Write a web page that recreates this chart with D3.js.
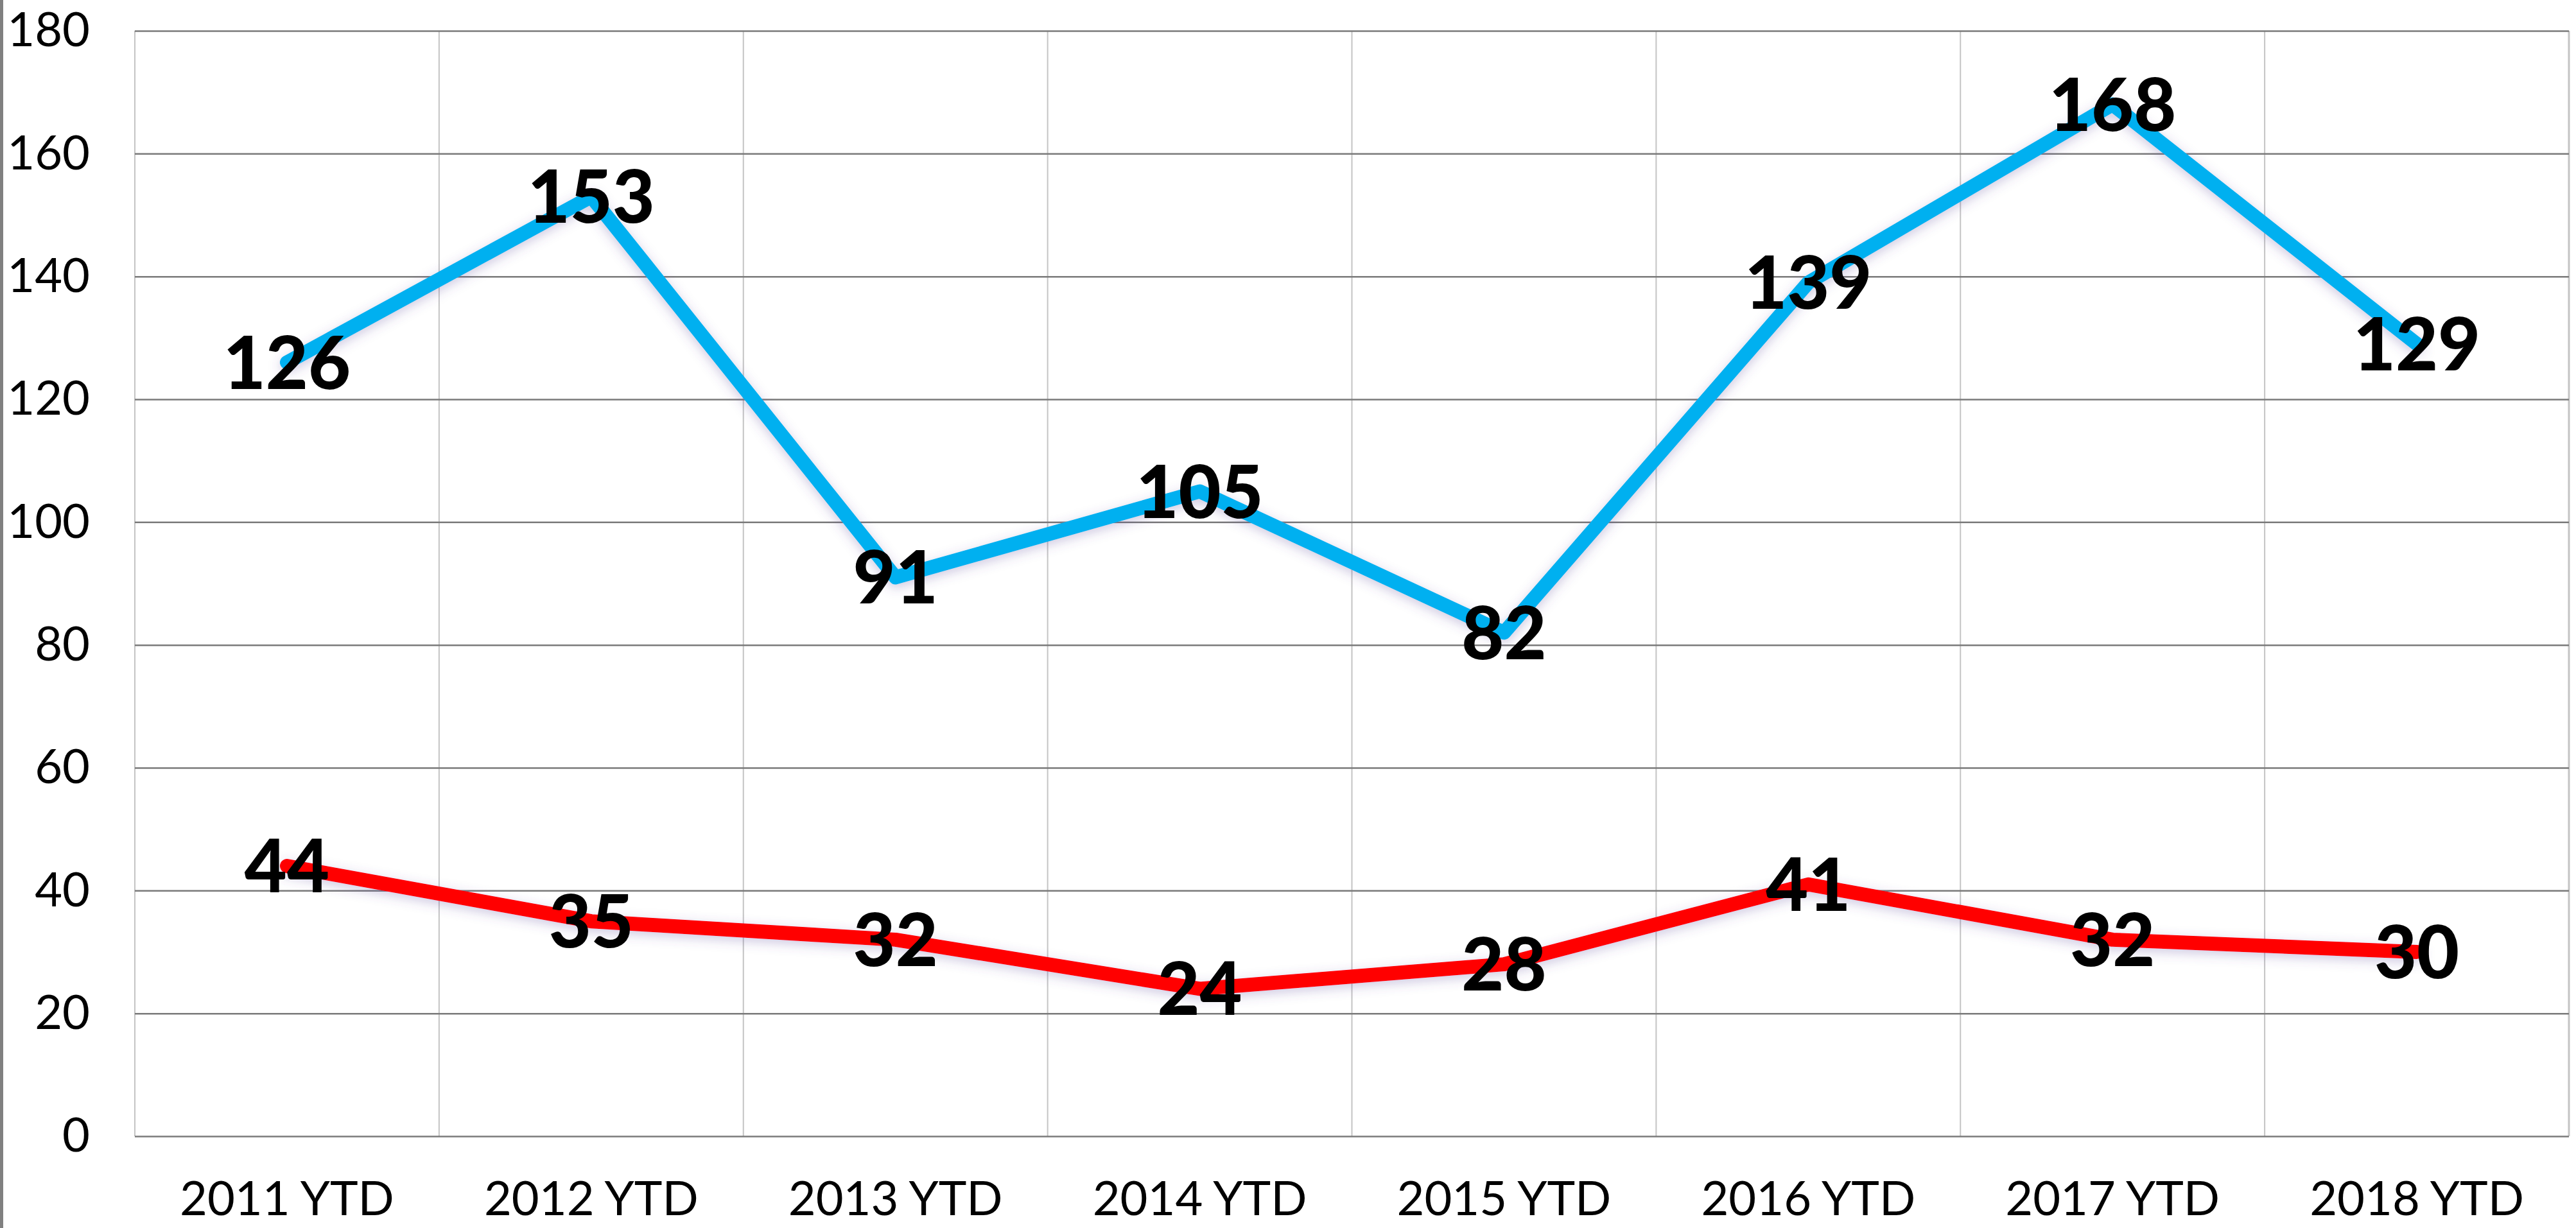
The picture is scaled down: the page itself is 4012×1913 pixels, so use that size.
<!DOCTYPE html>
<html>
<head>
<meta charset="utf-8">
<script src="https://cdn.jsdelivr.net/npm/d3@7"></script>
<style>
  body { margin: 0; background: #fff; }
  svg { display: block; }
</style>
</head>
<body>
<div id="chart"></div>
<script>
  var categories = ["2011 YTD", "2012 YTD", "2013 YTD", "2014 YTD", "2015 YTD", "2016 YTD", "2017 YTD", "2018 YTD"];
  var blueValues = [126, 153, 91, 105, 82, 139, 168, 129];
  var redValues = [44, 35, 32, 24, 28, 41, 32, 30];
  var yTicks = [0, 20, 40, 60, 80, 100, 120, 140, 160, 180];

  var W = 4012, H = 1913;
  var plotLeft = 210, plotRight = 4001, plotTop = 48, plotBottom = 1770;

  var svg = d3.select("#chart").append("svg")
      .attr("width", W)
      .attr("height", H);

  // glow under the lines
  var defs = svg.append("defs");
  var f = defs.append("filter")
      .attr("id", "glow")
      .attr("x", "-10%").attr("y", "-30%")
      .attr("width", "120%").attr("height", "160%");
  f.append("feDropShadow")
      .attr("dx", 0).attr("dy", 5)
      .attr("stdDeviation", 9)
      .attr("flood-color", "#5a4a9a")
      .attr("flood-opacity", 0.3);

  // grey strip on the left edge
  svg.append("rect")
      .attr("x", 0).attr("y", 0)
      .attr("width", 5).attr("height", H)
      .attr("fill", "#808080");

  var x = d3.scaleBand()
      .domain(categories)
      .range([plotLeft, plotRight])
      .padding(0);

  var y = d3.scaleLinear()
      .domain([0, 180])
      .range([plotBottom, plotTop]);

  function cx(d, i) { return x(categories[i]) + x.bandwidth() / 2; }

  // vertical gridlines at category boundaries
  svg.append("g")
      .selectAll("line")
      .data(categories)
      .enter()
      .append("line")
      .attr("x1", function(d) { return x(d); })
      .attr("x2", function(d) { return x(d); })
      .attr("y1", plotTop)
      .attr("y2", plotBottom)
      .attr("stroke", "#c4c4c4")
      .attr("stroke-width", 2);

  svg.append("line")
      .attr("x1", plotRight).attr("x2", plotRight)
      .attr("y1", plotTop).attr("y2", plotBottom)
      .attr("stroke", "#c4c4c4")
      .attr("stroke-width", 3);

  // y axis with horizontal gridlines
  var yAxis = svg.append("g")
      .attr("transform", "translate(" + plotLeft + ",0)")
      .call(d3.axisLeft(y)
        .tickValues(yTicks)
        .tickSize(-(plotRight - plotLeft))
        .tickPadding(70));
  yAxis.select(".domain").remove();
  yAxis.selectAll(".tick line")
      .attr("stroke", "#7a7a7a")
      .attr("stroke-width", 2.5);
  yAxis.selectAll(".tick text")
      .attr("font-family", "Lato, 'Open Sans', sans-serif")
      .attr("font-size", 74)
      .attr("fill", "#000");

  // x axis labels
  var xAxis = svg.append("g")
      .attr("transform", "translate(0," + plotBottom + ")")
      .call(d3.axisBottom(x).tickSize(0).tickPadding(70));
  xAxis.select(".domain").remove();
  xAxis.selectAll(".tick text")
      .attr("font-family", "Lato, 'Open Sans', sans-serif")
      .attr("font-size", 74)
      .attr("fill", "#000");

  var line = d3.line()
      .x(cx)
      .y(function(d) { return y(d); });

  var series = [
    { values: blueValues, color: "#00b0f0" },
    { values: redValues, color: "#ff0000" }
  ];

  svg.selectAll("path.series")
      .data(series)
      .enter()
      .append("path")
      .attr("class", "series")
      .attr("d", function(d) { return line(d.values); })
      .attr("fill", "none")
      .attr("stroke", function(d) { return d.color; })
      .attr("stroke-width", 22)
      .attr("stroke-linecap", "round")
      .attr("stroke-linejoin", "round")
      .attr("filter", "url(#glow)");

  // data labels, centred on points
  series.forEach(function(s) {
    svg.append("g")
      .selectAll("text")
      .data(s.values)
      .enter()
      .append("text")
      .attr("x", cx)
      .attr("y", function(d) { return y(d); })
      .attr("dy", "0.36em")
      .attr("text-anchor", "middle")
      .attr("font-family", "Lato, 'Open Sans', sans-serif")
      .attr("font-weight", 900)
      .attr("font-size", 114)
      .attr("fill", "#000")
      .text(function(d) { return d; });
  });
</script>
</body>
</html>
